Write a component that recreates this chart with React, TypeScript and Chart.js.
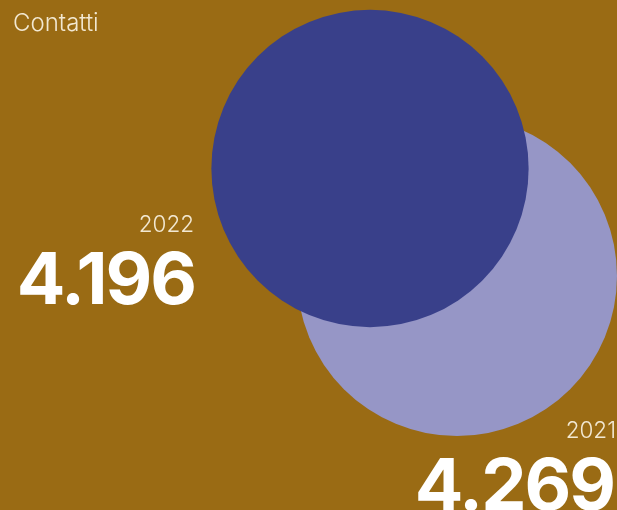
import React, { useEffect, useRef } from "react";
import { Chart, registerables } from "chart.js";

Chart.register(...registerables);

// ---- data ----
const years = ["2022", "2021"];
const contacts = [4196, 4269];
const labelsFormatted = ["4.196", "4.269"];
const title = "Contatti";

// ---- styles / layout ----
const W = 617;
const H = 510;
const BG = "#9a6b14";
const circleColors = ["#39408a", "#9696c6"];
const MAX_RADIUS = 160; // radius for the largest value (area ∝ value)
const maxVal = Math.max(...contacts);
const radii = contacts.map((v) => MAX_RADIUS * Math.sqrt(v / maxVal));
// light circle tangent to right edge, bottom at 436; dark circle offset from it
const anchor = { right: W, bottom: 436 };
const offset = { dx: -87, dy: -107.5 };

export default function App() {
  const canvasRef = useRef<HTMLCanvasElement | null>(null);

  useEffect(() => {
    const canvas = canvasRef.current;
    if (!canvas) return;
    const lightCx = anchor.right - radii[1];
    const lightCy = anchor.bottom - radii[1];
    const centers = [
      { x: lightCx + offset.dx, y: lightCy + offset.dy },
      { x: lightCx, y: lightCy },
    ];
    const chart = new Chart(canvas, {
      type: "bubble",
      data: {
        datasets: years.map((y, i) => ({
          label: y,
          data: [{ x: centers[i].x, y: centers[i].y, r: radii[i], v: contacts[i] }],
          backgroundColor: circleColors[i],
          hoverBackgroundColor: circleColors[i],
          borderWidth: 0,
          hoverBorderWidth: 0,
          clip: false as any,
        })),
      },
      options: {
        animation: false,
        responsive: false,
        devicePixelRatio: 1,
        layout: { padding: 0, autoPadding: false },
        events: [],
        plugins: { legend: { display: false }, tooltip: { enabled: false }, title: { display: false } },
        scales: {
          x: { type: "linear", min: 0, max: W, display: false },
          y: { type: "linear", min: 0, max: H, reverse: true, display: false },
        },
      },
    });
    return () => chart.destroy();
  }, []);

  const thin: React.CSSProperties = {
    position: "absolute",
    fontFamily: "Inter, sans-serif",
    fontWeight: 300,
    fontSize: 23,
    lineHeight: "1",
    color: "#f2e8d2",
    whiteSpace: "nowrap",
  };
  const big: React.CSSProperties = {
    position: "absolute",
    fontFamily: "Inter, sans-serif",
    fontWeight: 700,
    fontSize: 72,
    lineHeight: "1",
    color: "#ffffff",
    whiteSpace: "nowrap",
    letterSpacing: -2,
  };

  return (
    <div
      style={{
        position: "fixed",
        left: 0,
        top: 0,
        width: W,
        height: H,
        overflow: "hidden",
        background: BG,
      }}
    >
      <canvas ref={canvasRef} width={W} height={H} style={{ position: "absolute", left: 0, top: 0 }} />
      <div style={{ ...thin, fontSize: 24, left: 13, top: 11 }}>{title}</div>
      <div style={{ ...thin, fontSize: 22.5, right: 423, top: 213 }}>{years[0]}</div>
      <div style={{ ...big, right: 422, top: 242 }}>{labelsFormatted[0]}</div>
      <div style={{ ...thin, fontSize: 22.5, right: 1, top: 419 }}>{years[1]}</div>
      <div style={{ ...big, right: 3, top: 448 }}>{labelsFormatted[1]}</div>
    </div>
  );
}
